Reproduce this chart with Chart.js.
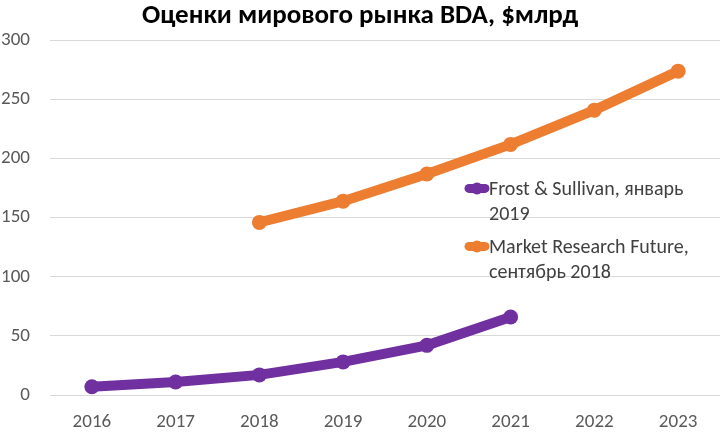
<!DOCTYPE html>
<html>
<head>
<meta charset="utf-8">
<script src="https://cdn.jsdelivr.net/npm/chart.js@4"></script>
<style>
  html, body { margin: 0; padding: 0; background: #fff; overflow: hidden; }
  #wrap { position: relative; width: 720px; height: 442px; }
</style>
</head>
<body>
<div id="wrap"><canvas id="bdaChart"></canvas></div>
<script>
// chart data
const years = ['2016', '2017', '2018', '2019', '2020', '2021', '2022', '2023'];
const frostValues = [7, 11, 17, 28, 42, 66, null, null];
const mrfValues = [null, null, 146, 164, 187, 212, 241, 274];
const seriesNames = ['Frost & Sullivan, январь 2019', 'Market Research Future, сентябрь 2018'];
const legendLines = [['Frost & Sullivan, январь', '2019'], ['Market Research Future,', 'сентябрь 2018']];
const yTicks = [0, 50, 100, 150, 200, 250, 300];

const FONT = 'Carlito, Lato, "Open Sans", sans-serif';
const colors = ['#7030A0', '#ED7D31'];

// legend drawn inside the plot, like the original
const insideLegend = {
    id: 'insideLegend',
    afterDraw(chart) {
        const ctx = chart.ctx;
        const area = chart.chartArea;
        const x0 = area.left + 415;
        const rows = [area.top + 148, area.top + 206];
        ctx.save();
        ctx.font = '20px ' + FONT;
        ctx.textBaseline = 'middle';
        chart.data.datasets.forEach((ds, i) => {
            const y = rows[i];
            ctx.strokeStyle = ds.borderColor;
            ctx.lineWidth = 9;
            ctx.lineCap = 'round';
            ctx.beginPath();
            ctx.moveTo(x0 + 4, y);
            ctx.lineTo(x0 + 20, y);
            ctx.stroke();
            ctx.fillStyle = ds.borderColor;
            ctx.beginPath();
            ctx.arc(x0 + 12, y, 6, 0, Math.PI * 2);
            ctx.fill();
            ctx.fillStyle = '#404040';
            legendLines[i].forEach((t, j) => {
                ctx.fillText(t, x0 + 24, y + 2 + j * 25);
            });
        });
        ctx.restore();
    }
};

const ctx = document.getElementById('bdaChart').getContext('2d');
new Chart(ctx, {
    type: 'line',
    data: {
        labels: years,
        datasets: [
            {
                label: seriesNames[0],
                data: frostValues,
                borderColor: colors[0],
                backgroundColor: colors[0],
                borderWidth: 10,
                pointRadius: 7.5,
                pointBorderWidth: 0,
                pointHoverRadius: 7.5,
                tension: 0
            },
            {
                label: seriesNames[1],
                data: mrfValues,
                borderColor: colors[1],
                backgroundColor: colors[1],
                borderWidth: 10,
                pointRadius: 7.5,
                pointBorderWidth: 0,
                pointHoverRadius: 7.5,
                tension: 0
            }
        ]
    },
    options: {
        responsive: true,
        maintainAspectRatio: false,
        animation: false,
        layout: { padding: 0, autoPadding: false },
        plugins: {
            legend: { display: false },
            tooltip: { enabled: false },
            title: {
                display: true,
                text: 'Оценки мирового рынка BDA, $млрд',
                color: '#000',
                font: { family: FONT, size: 27, weight: 'bold' },
                padding: { top: 0, bottom: 8 }
            }
        },
        scales: {
            x: {
                offset: true,
                grid: { display: false, drawTicks: false },
                border: { display: false },
                ticks: {
                    color: '#595959',
                    font: { family: FONT, size: 19 },
                    padding: 16,
                    maxRotation: 0
                },
                afterFit(scale) {
                    scale.height = 47;
                    scale.paddingLeft = 0;
                    scale.paddingRight = 0;
                }
            },
            y: {
                min: 0,
                max: 300,
                afterBuildTicks(scale) { scale.ticks = yTicks.map(v => ({ value: v })); },
                grid: { color: '#D9D9D9', lineWidth: 1, drawTicks: false },
                border: { display: false },
                ticks: {
                    color: '#595959',
                    font: { family: FONT, size: 19 },
                    padding: 20
                },
                afterFit(scale) { scale.width = 50; }
            }
        }
    },
    plugins: [insideLegend]
});
</script>
</body>
</html>
